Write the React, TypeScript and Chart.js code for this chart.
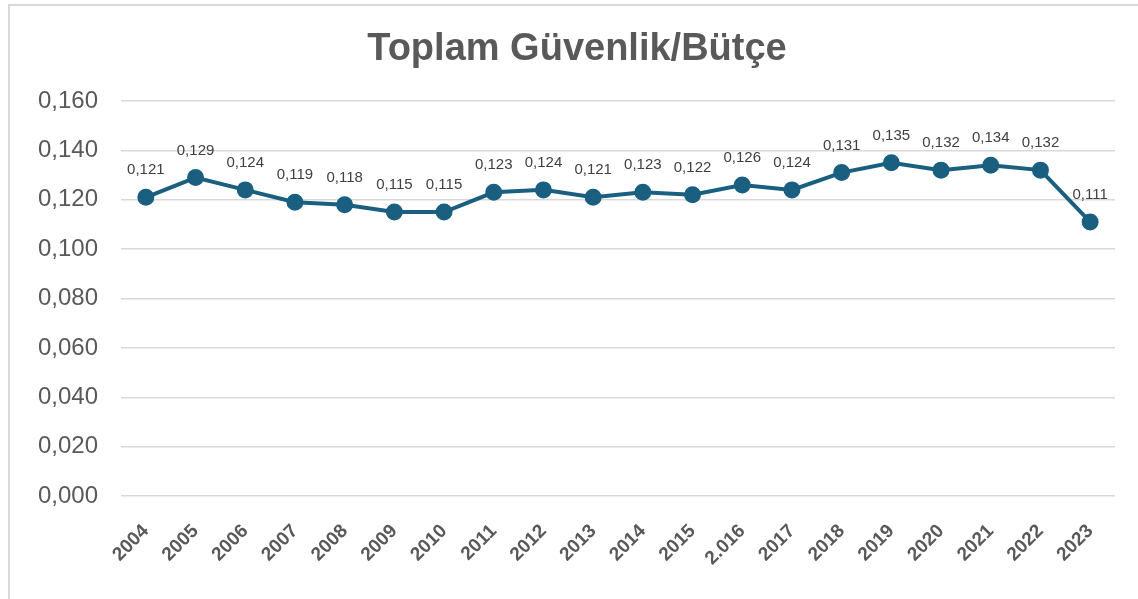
import React, { useEffect, useRef } from "react";
import { Chart, registerables } from "chart.js";

Chart.register(...registerables);

const categories = ["2004", "2005", "2006", "2007", "2008", "2009", "2010", "2011", "2012", "2013", "2014", "2015", "2.016", "2017", "2018", "2019", "2020", "2021", "2022", "2023"];
const values = [0.121, 0.129, 0.124, 0.119, 0.118, 0.115, 0.115, 0.123, 0.124, 0.121, 0.123, 0.122, 0.126, 0.124, 0.131, 0.135, 0.132, 0.134, 0.132, 0.111];
const yTicks = [0, 0.02, 0.04, 0.06, 0.08, 0.1, 0.12, 0.14, 0.16];
const title = "Toplam Güvenlik/Bütçe";

const fmt = (v: number) => v.toFixed(3).replace(".", ",");

const FONT = "'Liberation Sans', Arial, sans-serif";
const LINE = "#1a5f80";

const labelPlugin = {
  id: "pointLabels",
  afterDatasetsDraw(chart: any) {
    const ctx = chart.ctx;
    const meta = chart.getDatasetMeta(0);
    ctx.save();
    ctx.font = `15px ${FONT}`;
    ctx.fillStyle = "#404040";
    ctx.textAlign = "center";
    ctx.textBaseline = "middle";
    meta.data.forEach((pt: any, i: number) => {
      ctx.fillText(fmt(values[i]), pt.x, pt.y - 27);
    });
    ctx.restore();
  },
};

const titlePlugin = {
  id: "centerTitle",
  afterDraw(chart: any) {
    const ctx = chart.ctx;
    ctx.save();
    ctx.font = `bold 38px ${FONT}`;
    ctx.fillStyle = "#595959";
    ctx.textAlign = "center";
    ctx.textBaseline = "alphabetic";
    ctx.fillText(title, chart.width / 2, 54);
    ctx.restore();
  },
};

export default function App() {
  const ref = useRef<HTMLCanvasElement>(null);
  useEffect(() => {
    if (!ref.current) return;
    const chart = new Chart(ref.current, {
      type: "line",
      data: {
        labels: categories,
        datasets: [
          {
            data: values,
            borderColor: LINE,
            backgroundColor: LINE,
            borderWidth: 4,
            pointRadius: 6.5,
            pointBackgroundColor: LINE,
            pointBorderColor: LINE,
            tension: 0,
          },
        ],
      },
      options: {
        responsive: true,
        maintainAspectRatio: false,
        animation: false,
        layout: { padding: { left: 0, right: 29, top: 95, bottom: 0 } },
        plugins: {
          legend: { display: false },
          tooltip: { enabled: false },
          title: { display: false },
        },
        scales: {
          x: {
            offset: true,
            grid: { display: false },
            border: { display: false },
            ticks: {
              color: "#595959",
              font: { family: FONT, size: 19, weight: "bold" },
              maxRotation: 45,
              minRotation: 45,
              autoSkip: false,
              padding: 16,
            },
            afterFit(scale: any) {
              scale.height = 126;
            },
          },
          y: {
            min: 0,
            max: 0.16,
            afterBuildTicks(scale: any) {
              scale.ticks = yTicks.map((v) => ({ value: v }));
            },
            grid: { color: "#d9d9d9", lineWidth: 1.5, drawTicks: false },
            border: { display: false },
            ticks: {
              color: "#595959",
              font: { family: FONT, size: 24 },
              padding: 23,
              callback: (v: any) => fmt(Number(v)),
            },
            afterFit(scale: any) {
              scale.width = 111;
            },
          },
        },
      },
      plugins: [labelPlugin, titlePlugin],
    });
    return () => chart.destroy();
  }, []);
  return (
    <div
      style={{
        position: "fixed",
        left: 8,
        top: 4,
        width: 1138,
        height: 620,
        border: "2px solid #d9d9d9",
        boxSizing: "border-box",
        background: "#fff",
      }}
    >
      <canvas ref={ref} style={{ display: "block", width: "100%", height: "100%" }} />
    </div>
  );
}
